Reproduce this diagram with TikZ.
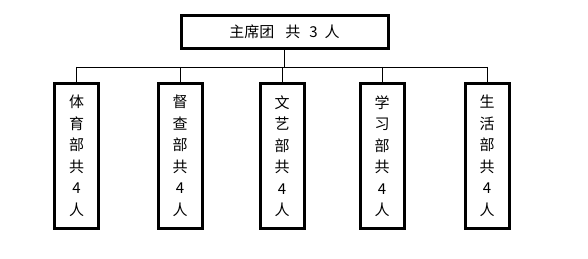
\documentclass[tikz,border=0pt]{standalone}
\usepackage{fontspec}
\newfontfamily\cjk{Noto Sans CJK SC}
\begin{document}
\begin{tikzpicture}[x=1pt,y=-1pt,
  topbox/.style={draw,line width=3pt,minimum width=207pt,minimum height=33pt,inner sep=0pt,font=\cjk\fontsize{15}{17}\selectfont},
  deptbox/.style={draw,line width=3pt,minimum width=44pt,minimum height=145pt,inner sep=0pt,font=\cjk\fontsize{15}{21.5}\selectfont,align=center},
  link/.style={line width=0.8pt}]
\useasboundingbox (0,0) rectangle (588,259);
\node[topbox] (top) at (284.5,32) {主席团\hspace{11pt}共\hspace{9pt}3\hspace{7pt}人};
\node[deptbox] (d1) at (76.5,156) {体\\育\\部\\共\\4\\人};
\node[deptbox] (d2) at (180,156) {督\\查\\部\\共\\4\\人};
\node[deptbox] (d3) at (282,156) {文\\艺\\部\\共\\4\\人};
\node[deptbox] (d4) at (382,156) {学\\习\\部\\共\\4\\人};
\node[deptbox] (d5) at (487,156) {生\\活\\部\\共\\4\\人};
\coordinate (hl) at (76.5,67);
\coordinate (hr) at (487,67);
\draw[link] (top.south) -- (top.south |- hl);
\draw[link] (hl) -- (hr);
\foreach \d in {d1,d2,d3,d4,d5}{
  \draw[link] (\d.north |- hl) -- (\d.north);
}
\end{tikzpicture}
\end{document}
